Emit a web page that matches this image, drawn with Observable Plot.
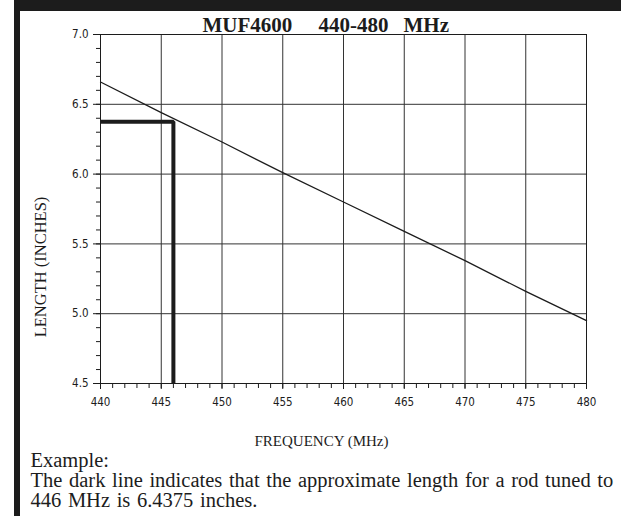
<!DOCTYPE html>
<html><head><meta charset="utf-8">
<script src="https://cdn.jsdelivr.net/npm/d3@7"></script>
<script src="https://cdn.jsdelivr.net/npm/@observablehq/plot@0.6"></script>
<style>
html,body{margin:0;padding:0;background:#fff;overflow:hidden;}
#wrap{position:relative;width:621px;height:516px;background:#fff;overflow:hidden;}
#topbar{position:absolute;left:14px;top:0;width:607px;height:11px;background:#1c1c1c;}
#leftbar{position:absolute;left:14px;top:0;width:6px;height:516px;background:#1c1c1c;}
#chart{position:absolute;left:0;top:0;}
#chart svg g[aria-label="x-axis tick label"], #chart svg g[aria-label="y-axis tick label"]{font-stretch:condensed;}
</style></head><body>
<div id="wrap"><div id="chart"></div><div id="topbar"></div><div id="leftbar"></div></div>
<script>
const frequencies = [440, 445, 450, 455, 460, 465, 470, 475, 480];
const lengths = [6.66, 6.44, 6.23, 6.01, 5.80, 5.59, 5.38, 5.16, 4.95];
const exampleFreq = 446;
const exampleLength = 6.375;
const xMajorTicks = [440, 445, 450, 455, 460, 465, 470, 475, 480];
const xMinorTicks = d3.range(440, 481, 1);
const yMajorTicks = [4.5, 5.0, 5.5, 6.0, 6.5, 7.0];
const yMinorTicks = d3.range(45, 71, 1).map(d => d / 10);
const titleParts = ["MUF4600", "440-480", "MHz"];
const xLabel = "FREQUENCY (MHz)";
const yLabel = "LENGTH (INCHES)";
const exampleLines = [
  "Example:",
  "The dark line indicates that the approximate length for a rod tuned to",
  "446 MHz is 6.4375 inches."
];

const curve = frequencies.map((f, i) => ({f, l: lengths[i]}));
const xDomain = [xMajorTicks[0], xMajorTicks[xMajorTicks.length - 1]];
const yDomain = [yMajorTicks[0], yMajorTicks[yMajorTicks.length - 1]];
const example = [
  {f: xDomain[0], l: exampleLength},
  {f: exampleFreq, l: exampleLength},
  {f: exampleFreq, l: yDomain[0]}
];

const serif = "'Liberation Serif', 'Times New Roman', serif";
const narrow = "'DejaVu Sans Condensed', 'DejaVu Sans', sans-serif";
const ink = "#1c1c1c";

const titleDx = [102, 218, 303];
const exDy = [83, 103, 123];

const chart = Plot.plot({
  width: 621,
  height: 516,
  marginLeft: 100,
  marginRight: 35,
  marginTop: 34,
  marginBottom: 133,
  style: {background: "transparent", overflow: "visible"},
  x: {domain: xDomain},
  y: {domain: yDomain},
  marks: [
    Plot.gridX(xMajorTicks, {stroke: "#333", strokeOpacity: 1, strokeWidth: 1}),
    Plot.gridY(yMajorTicks, {stroke: "#333", strokeOpacity: 1, strokeWidth: 1}),
    Plot.frame({stroke: ink, strokeWidth: 1}),
    Plot.axisX(xMinorTicks, {tickSize: 5, tickFormat: () => "", label: null, stroke: ink}),
    Plot.axisX(xMajorTicks, {tickSize: 6, tickPadding: 8, tickFormat: d => String(d), label: null,
      fontFamily: narrow, fontSize: 11.5, fill: ink, stroke: ink}),
    Plot.axisY(yMinorTicks, {tickSize: 4, tickFormat: () => "", label: null, stroke: ink}),
    Plot.axisY(yMajorTicks, {tickSize: 7, tickPadding: 5, tickFormat: d3.format(".1f"), label: null,
      fontFamily: narrow, fontSize: 11.5, fill: ink, stroke: ink}),
    Plot.line(curve, {x: "f", y: "l", stroke: ink, strokeWidth: 1.3}),
    Plot.line(example, {x: "f", y: "l", stroke: ink, strokeWidth: 4, strokeLinejoin: "miter", strokeLinecap: "butt"}),
    ...titleParts.map((t, i) => Plot.text([t], {
      frameAnchor: "top-left", dx: titleDx[i], dy: -3, lineAnchor: "bottom", textAnchor: "start",
      fontFamily: serif, fontWeight: "bold", fontSize: 21, fill: ink
    })),
    Plot.text([xLabel], {frameAnchor: "bottom", dx: -22, dy: 62, lineAnchor: "bottom", textAnchor: "middle",
      fontFamily: serif, fontSize: 15, fill: ink}),
    Plot.text([yLabel], {frameAnchor: "left", rotate: -90, dx: -60, dy: 58, textAnchor: "middle",
      fontFamily: serif, fontSize: 16.5, fill: ink}),
    ...exampleLines.map((t, i) => Plot.text([t], {
      frameAnchor: "bottom-left", dx: -70, dy: exDy[i], lineAnchor: "bottom", textAnchor: "start",
      fontFamily: serif, fontSize: 20.5, fill: ink
    }))
  ]
});
document.getElementById("chart").appendChild(chart);
d3.select(chart).selectAll("text")
  .filter(function() { return exampleLines.includes(this.textContent); })
  .style("word-spacing", "1.5px");
</script>
</body></html>
